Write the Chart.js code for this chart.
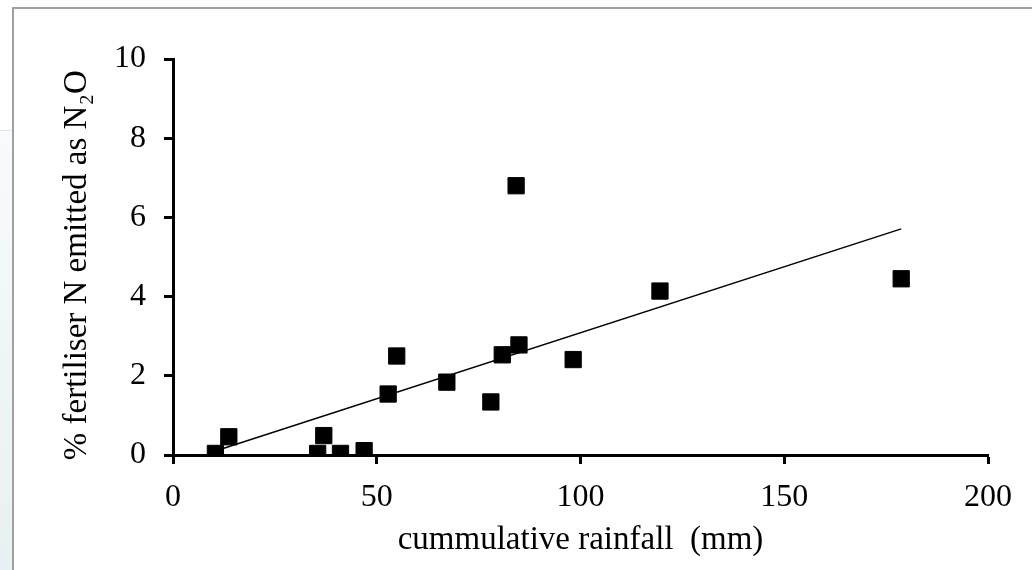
<!DOCTYPE html>
<html>
<head>
<meta charset="utf-8">
<script src="https://cdn.jsdelivr.net/npm/chart.js@4/dist/chart.umd.min.js"></script>
<style>
  html, body { margin: 0; padding: 0; background: #fff; overflow: hidden; }
  #strip { position: absolute; left: 0; top: 130px; width: 12px; height: 440px;
           border-top: 1px solid #dde9ec;
           background: linear-gradient(to bottom, #f8fbfb, #e7f0f2); }
  #frame { position: absolute; left: 12px; top: 7px; width: 1040px; height: 580px;
           border-left: 2px solid #a0a0a0; border-top: 2px solid #a0a0a0; background: #fff; }
  #chart { position: absolute; left: 0; top: 0; }
</style>
</head>
<body>
<div id="strip"></div>
<div id="frame"></div>
<canvas id="chart" width="1032" height="570"></canvas>
<script>
// datos
const rainfall = [10.4, 13.7, 35.5, 37.0, 41.1, 46.9, 52.8, 54.9, 67.2, 78.0, 80.8, 84.2, 84.9, 98.2, 119.5, 178.7];
const emitted  = [0.04, 0.46, 0.04, 0.49, 0.04, 0.11, 1.54, 2.50, 1.84, 1.34, 2.53, 6.80, 2.78, 2.41, 4.14, 4.45];

// línea de tendencia (extremos)
const trendX = [10.4, 178.7];
const trendY = [0.10, 5.71];

const xTicks = [0, 50, 100, 150, 200];
const yTicks = [0, 2, 4, 6, 8, 10];

const xTitle = 'cummulative rainfall  (mm)';
const yTitle = '% fertiliser N emitted as N\u2082O  ';

const serif = "'Liberation Serif', 'Times New Roman', serif";

const ctx = document.getElementById('chart').getContext('2d');

const chart = new Chart(ctx, {
    type: 'scatter',
    data: {
        datasets: [{
            data: rainfall.map((x, i) => ({ x: x, y: emitted[i] })),
            pointStyle: 'rect',
            pointRadius: 11.5,
            pointBorderWidth: 1,
            backgroundColor: '#000',
            borderColor: '#000'
        }, {
            type: 'line',
            data: trendX.map((x, i) => ({ x: x, y: trendY[i] })),
            showLine: true,
            pointRadius: 0,
            borderColor: '#000',
            borderWidth: 1.5,
            fill: false
        }]
    },
    options: {
        responsive: false,
        animation: false,
        events: [],
        layout: { padding: { left: 0, top: 59, right: 44, bottom: 0 } },
        plugins: { legend: { display: false }, tooltip: { enabled: false } },
        scales: {
            x: {
                type: 'linear',
                min: 0,
                max: 200,
                afterBuildTicks: s => { s.ticks = xTicks.map(v => ({ value: v })); },
                afterFit: s => { s.height = 115; },
                border: { display: true, color: '#000', width: 3 },
                grid: { drawOnChartArea: false, drawTicks: true, tickLength: 9, tickWidth: 3, tickColor: '#000' },
                ticks: { color: '#000', padding: 14, font: { family: serif, size: 32, lineHeight: 1.2 } },
                title: {
                    display: true,
                    text: xTitle,
                    color: '#000',
                    padding: { top: 0, bottom: 10 },
                    font: { family: serif, size: 33, lineHeight: 1.2 }
                }
            },
            y: {
                type: 'linear',
                min: 0,
                max: 10,
                afterBuildTicks: s => { s.ticks = yTicks.map(v => ({ value: v })); },
                afterFit: s => { s.width = 173; },
                border: { display: true, color: '#000', width: 3 },
                grid: { drawOnChartArea: false, drawTicks: true, tickLength: 9, tickWidth: 3, tickColor: '#000' },
                ticks: { color: '#000', padding: 18, font: { family: serif, size: 32, lineHeight: 1.2 } },
                title: {
                    display: true,
                    text: yTitle,
                    color: '#000',
                    padding: { top: 58, bottom: 0 },
                    font: { family: serif, size: 33, lineHeight: 1.2 }
                }
            }
        }
    }
});
</script>
</body>
</html>
